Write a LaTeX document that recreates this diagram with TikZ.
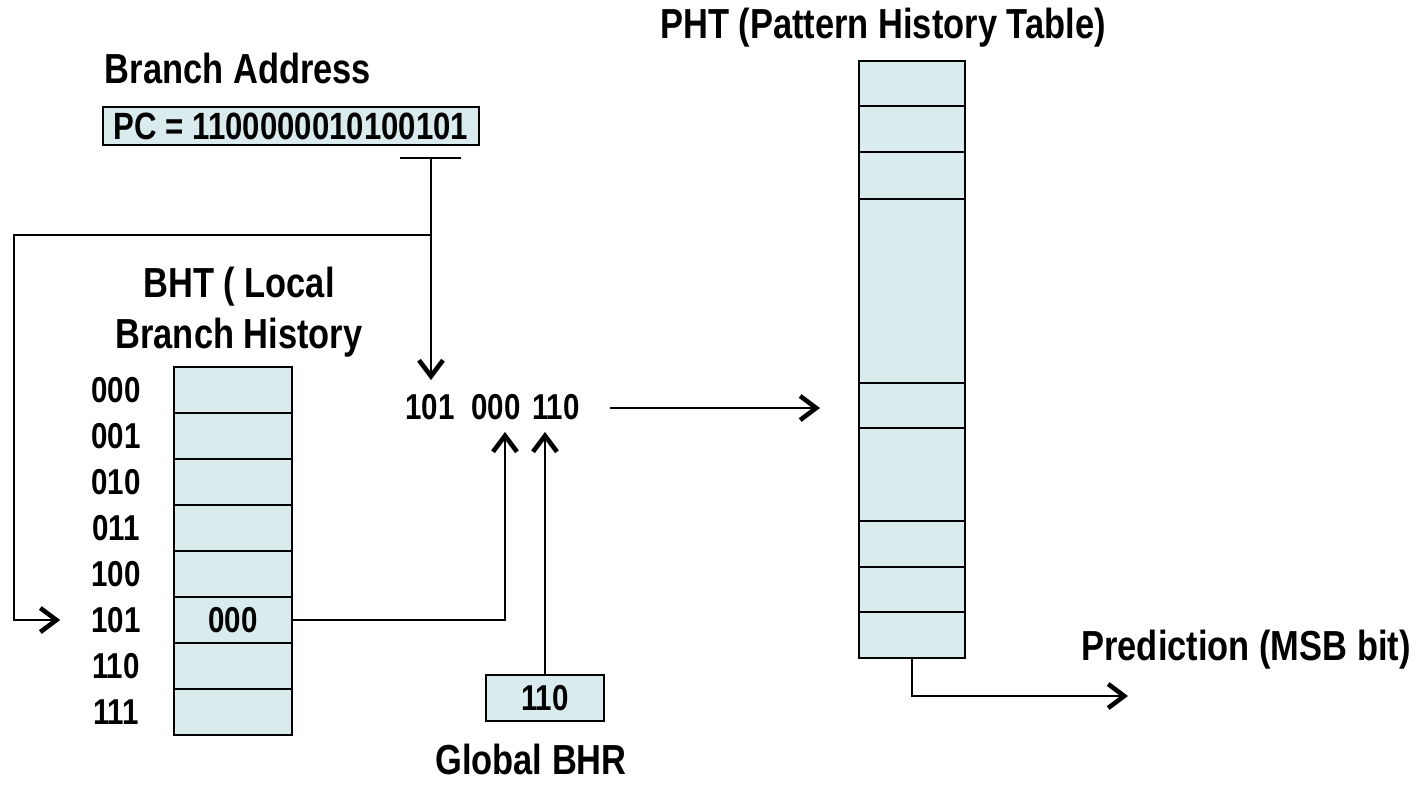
\documentclass[tikz,border=0pt]{standalone}
\usepackage{fontspec}
\setmainfont{Liberation Sans}[FakeStretch=0.82]
\usetikzlibrary{arrows.meta}
\definecolor{cellfill}{HTML}{DAEBEE}
\begin{document}
\begin{tikzpicture}[x=1pt,y=-1pt,
  lbl/.style={font=\bfseries\fontsize{42}{51}\selectfont, inner sep=0pt},
  small/.style={font=\bfseries\fontsize{38}{44}\selectfont, inner sep=0pt},
  digits/.style={font=\bfseries\fontsize{36}{42}\selectfont, inner sep=0pt},
  cell/.style={draw, line width=2pt, fill=cellfill, inner sep=0pt},
  wire/.style={line width=1.6pt},
  tip/.style={-{Straight Barb[length=16pt,width=24pt,line width=3pt 1]}}
]
\useasboundingbox (0,0) rectangle (1423,788);

% titles
\node[lbl] (ba) at (238,68) {Branch Address};
\node[lbl] (pht) at (883,28) {PHT (Pattern History Table)};
\node[lbl, align=center] (bht) at (239,312) {BHT ( Local\\Branch History};
\node[lbl] (gbhr) at (531,759) {Global BHR};
\node[lbl] (pred) at (1246,650) {Prediction (MSB bit)};

% program counter register
\node[cell, small, minimum width=376pt, minimum height=38pt] (pc) at (291,126) {PC = 1100000010100101};

% local branch history table
\foreach \r/\lab [count=\i from 0] in {0/000,1/001,2/010,3/011,4/100,5/101,6/110,7/111}{
  \node[cell, minimum width=118pt, minimum height=46pt, anchor=north west] (b\i) at (173,{366+46*\r}) {};
  \node[digits] (l\i) at (116,{390+46*\r}) {\lab};
}
\node[digits] (bval) at (b5) {000};

% pattern history table
\foreach \t/\b [count=\i] in {60/105,105/151,151/198,198/382,382/427,427/520,520/566,566/611,611/657}{
  \node[cell, minimum width=106pt, minimum height={(\b-\t)*1pt}, anchor=north west] (p\i) at (858,\t) {};
}

% global history register
\node[cell, digits, minimum width=118pt, minimum height=46pt] (g) at (545,698) {110};

% concatenated index
\node[digits] (i1) at (430,407) {101};
\node[digits] (i2) at (496,407) {000};
\node[digits] (i3) at (556,407) {110};

% PC bits feed the index and the BHT lookup
\coordinate (tbar) at (431,158);
\coordinate (split) at (431,235);
\coordinate (loop) at (14,620);
\draw[wire] ([xshift=-31pt]tbar) -- ([xshift=30pt]tbar);
\draw[wire, tip] (tbar) -- ([xshift=1pt]i1.north) [shorten >=14pt];
\draw[wire, tip] (split) -| (loop) -- (l5.west) [shorten >=31pt];

% BHT entry to index
\draw[wire, tip] (b5.east) -| ([xshift=9pt]i2.south) [shorten >=12pt];

% global history to index
\draw[wire, tip] (g.north) -- (g.north |- i3.south) [shorten >=12pt];

% index into PHT
\coordinate (ix) at ([xshift=30pt,yshift=-1pt]i3.east);
\draw[wire, tip] (ix) -- (ix -| p5.west) [shorten >=38pt];

% prediction output
\coordinate (predtip) at (1128,696);
\draw[wire, tip] (p9.south) |- (predtip);
\end{tikzpicture}
\end{document}
